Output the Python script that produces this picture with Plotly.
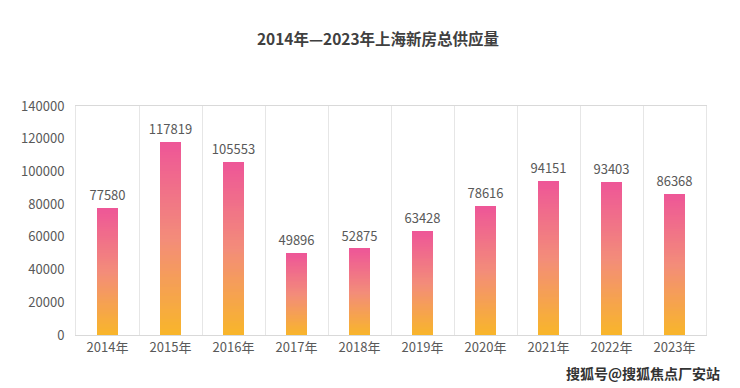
import plotly.graph_objects as go

years = ["2014年", "2015年", "2016年", "2017年", "2018年", "2019年", "2020年", "2021年", "2022年", "2023年"]
supply = [77580, 117819, 105553, 49896, 52875, 63428, 78616, 94151, 93403, 86368]
y_ticks = [0, 20000, 40000, 60000, 80000, 100000, 120000, 140000]

title_text = "2014年—2023年上海新房总供应量"
watermark = "搜狐号@搜狐焦点厂安站"

FONT = "Microsoft YaHei, Noto Sans CJK SC, sans-serif"

# gradient stops: bottom -> middle -> top
stops = [(0.0, (248, 182, 42)), (0.5, (243, 140, 122)), (1.0, (238, 86, 151))]


def grad(t):
    for (t0, c0), (t1, c1) in zip(stops[:-1], stops[1:]):
        if t <= t1:
            f = (t - t0) / (t1 - t0)
            return "rgb(%d,%d,%d)" % tuple(round(a + (b - a) * f) for a, b in zip(c0, c1))
    return "rgb(%d,%d,%d)" % stops[-1][1]


N = 60
fig = go.Figure()
for i in range(N):
    fig.add_trace(go.Bar(
        x=years,
        y=[v / N for v in supply],
        width=0.32,
        marker=dict(color=grad((i + 0.5) / N), line=dict(width=0)),
        showlegend=False,
        hoverinfo="skip",
    ))

fig.add_trace(go.Scatter(
    x=years, y=supply, mode="markers+text",
    text=[str(v) for v in supply],
    textposition="top center",
    marker=dict(size=6, opacity=0),
    textfont=dict(size=13, color="#595959", family=FONT),
    showlegend=False,
    cliponaxis=False,
    hoverinfo="skip",
))

# hidden axis for the vertical separators between categories
fig.add_trace(go.Scatter(x=[0], y=[0], xaxis="x2", mode="markers",
                         marker=dict(opacity=0), showlegend=False, hoverinfo="skip"))

# page body has an 8px default margin, so the figure is 732x380
W, H = 732, 380
L, R, T, B = 68, 34, 98, 53
PW, PH = W - L - R, H - T - B

fig.update_layout(
    width=W, height=H,
    barmode="stack", bargap=0,
    paper_bgcolor="white", plot_bgcolor="white",
    margin=dict(l=L, r=R, t=T, b=B, autoexpand=False),
    title=dict(text="<b>" + title_text + "</b>", x=370 / W, xanchor="center",
               y=1 - 32 / H, yanchor="middle",
               font=dict(size=15.5, color="#404040", family=FONT)),
    font=dict(family=FONT, color="#595959", size=13),
    xaxis=dict(type="category", range=[-0.5, 9.5], showgrid=False,
               showline=True, linecolor="#d9d9d9", linewidth=1, mirror=True,
               ticks="", tickfont=dict(size=13, color="#595959")),
    xaxis2=dict(overlaying="x", range=[-0.5, 9.5], tick0=0.5, dtick=1,
                showgrid=True, gridcolor="#e6e6e6", gridwidth=1,
                showticklabels=False, zeroline=False, ticks="", side="bottom"),
    yaxis=dict(range=[0, 140000], tickvals=y_ticks, ticktext=[str(t) for t in y_ticks],
               showgrid=False,
               showline=True, linecolor="#e6e6e6", mirror=True, zeroline=False,
               ticks="", ticklabelstandoff=8,
               tickfont=dict(size=13, color="#595959")),
    annotations=[dict(text="<b>" + watermark + "</b>", xref="paper", yref="paper",
                      x=(714 - L) / PW, y=(PH + T - 365) / PH - 0, xanchor="right",
                      yanchor="middle",
                      showarrow=False, font=dict(size=14, color="#333333", family=FONT))],
)

fig.write_html("out.html")
